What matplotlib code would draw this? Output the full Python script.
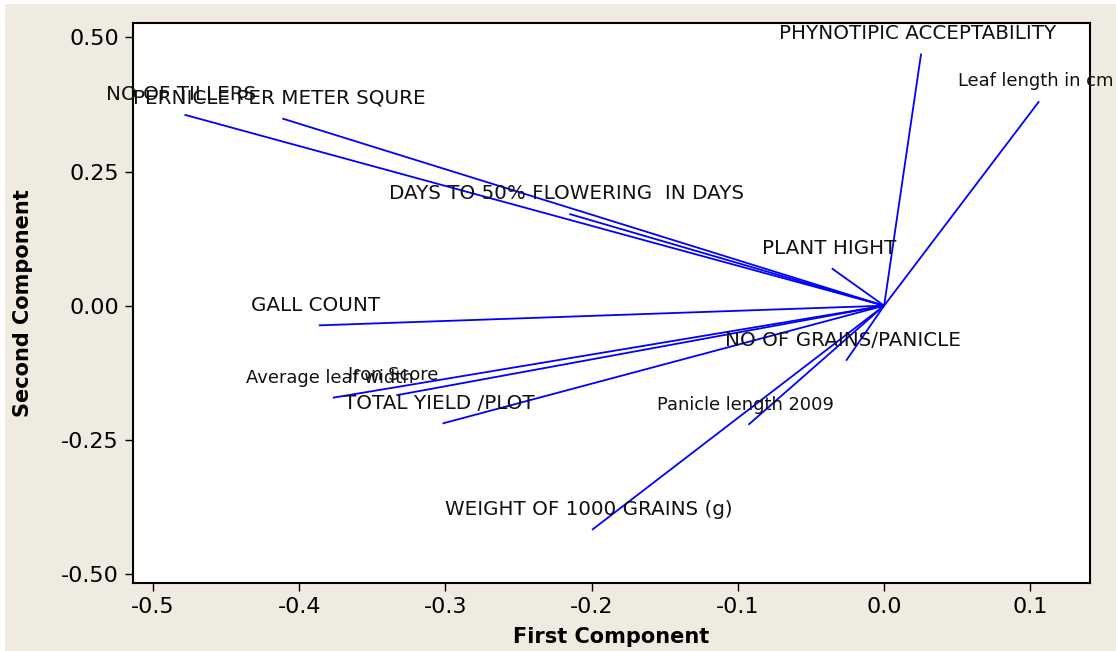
import matplotlib
matplotlib.use("Agg")
import matplotlib.pyplot as plt
from matplotlib.patches import Rectangle
from matplotlib.ticker import FormatStrFormatter

plt.rcParams['font.family'] = ['DejaVu Sans']
plt.rcParams['axes.unicode_minus'] = False

# Loadings (First Component, Second Component)
variables = [
    "NO OF TILLERS",
    "PERNICLE PER METER SQURE",
    "DAYS TO 50% FLOWERING  IN DAYS",
    "PHYNOTIPIC ACCEPTABILITY",
    "Leaf length in cm",
    "PLANT HIGHT",
    "GALL COUNT",
    "Average leaf width",
    "Iron Score",
    "TOTAL YIELD /PLOT",
    "NO OF GRAINS/PANICLE",
    "Panicle length 2009",
    "WEIGHT OF 1000 GRAINS (g)",
]
pc1 = [-0.4785, -0.4116, -0.2153, 0.0253, 0.1060, -0.0358, -0.3866,
       -0.3770, -0.3336, -0.3020, -0.0260, -0.0928, -0.1998]
pc2 = [0.356, 0.349, 0.171, 0.470, 0.381, 0.0696, -0.0367,
       -0.1716, -0.1670, -0.2196, -0.1026, -0.2220, -0.418]

xticks = [-0.5, -0.4, -0.3, -0.2, -0.1, 0.0, 0.1]
yticks = [-0.50, -0.25, 0.00, 0.25, 0.50]

W, H, DPI = 1116, 651, 100
fig = plt.figure(figsize=(W / DPI, H / DPI), dpi=DPI, facecolor='white')
fig.patches.append(Rectangle((5 / W, 0), 1 - 5 / W, 1 - 4 / H,
                             transform=fig.transFigure, facecolor='#efebe1',
                             edgecolor='none', zorder=-10))

ax = fig.add_axes([133 / W, 1 - 583 / H, (1090 - 133) / W, (583 - 23) / H])
ax.set_facecolor('white')

for name, x, y in zip(variables, pc1, pc2):
    ax.plot([0, x], [0, y], color='#0000ff', lw=1.3, solid_capstyle='butt')
    # Verdana-like proportions: wide capitals, narrower lowercase
    mostly_lower = sum(c.islower() for c in name) > 3
    fs = 12.9 if mostly_lower else 14.3
    ax.annotate(name, xy=(x, y), xytext=(-3, 20), textcoords='offset pixels',
                ha='center', va='center', fontsize=fs, color='#111111',
                annotation_clip=False)

ax.set_xlim(-0.5137, 0.1408)
ax.set_ylim(-0.517, 0.527)
ax.set_xticks(xticks)
ax.set_yticks(yticks)
ax.xaxis.set_major_formatter(FormatStrFormatter('%.1f'))
ax.yaxis.set_major_formatter(FormatStrFormatter('%.2f'))
ax.tick_params(axis='both', direction='out', length=6, width=1,
               labelsize=16, colors='black', pad=4)
for s in ax.spines.values():
    s.set_linewidth(1.5)
    s.set_color('black')

ax.set_xlabel('First Component', fontsize=15, fontweight='bold', labelpad=7)
ax.set_ylabel('Second Component', fontsize=15, fontweight='bold', labelpad=20)

fig.savefig('out.png', dpi=DPI, facecolor=fig.get_facecolor())
